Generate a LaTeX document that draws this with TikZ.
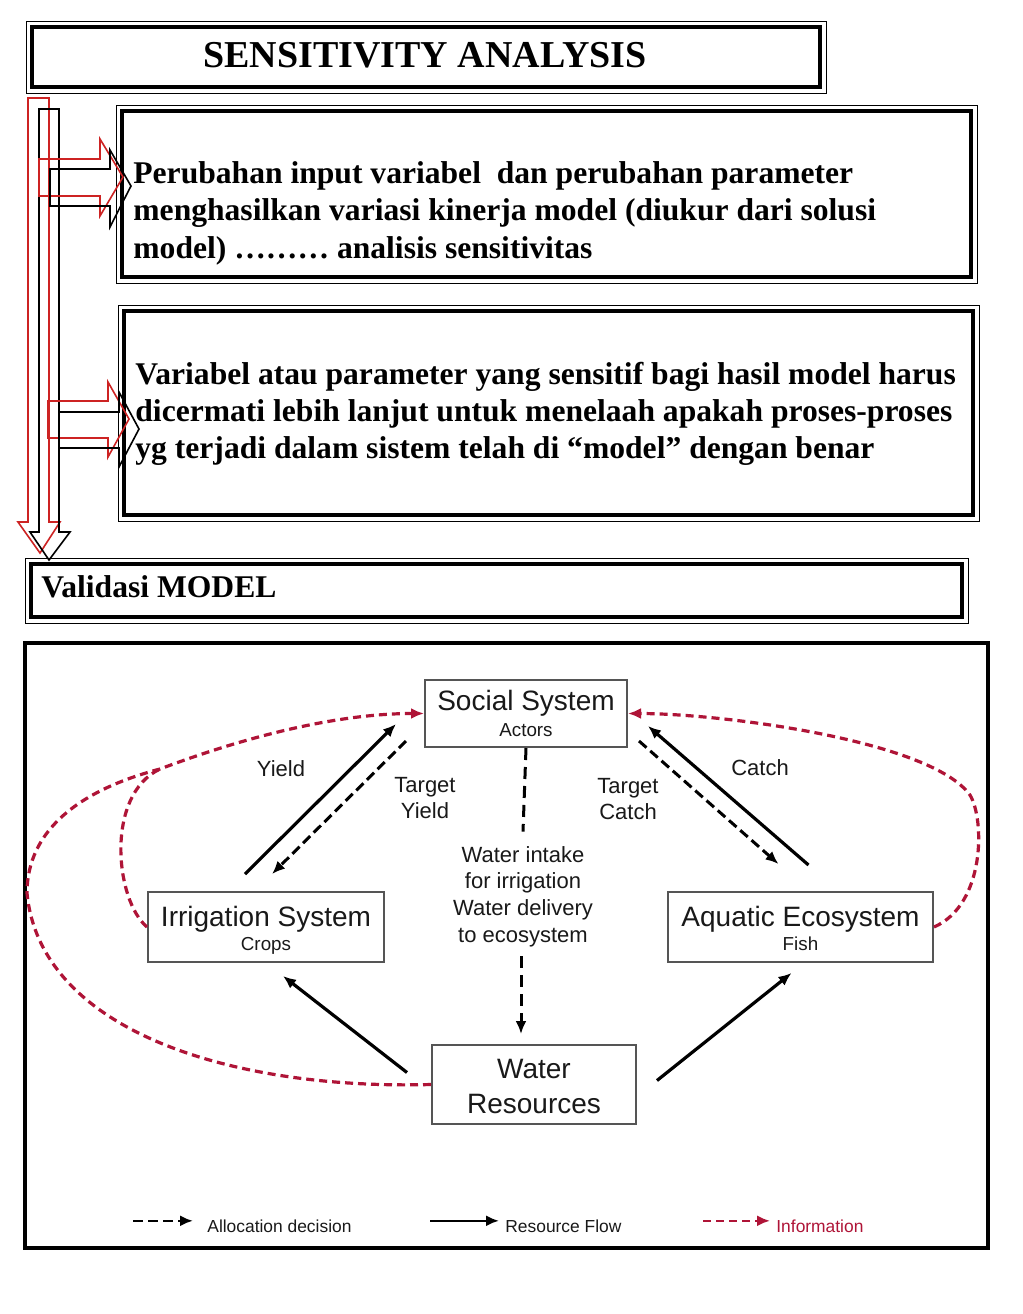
\documentclass[tikz,border=0pt]{standalone}
\usepackage{fontspec}
\setmainfont{Liberation Serif}
\setsansfont{Liberation Sans}
\usetikzlibrary{arrows.meta, calc}
\definecolor{infored}{RGB}{175,20,55}
\definecolor{blockred}{RGB}{205,35,35}
\definecolor{boxgray}{RGB}{85,85,85}
\definecolor{txtgray}{RGB}{25,25,25}

\begin{document}
\begin{tikzpicture}[x=0.5pt, y=-0.5pt,
	thinframe/.style={draw, line width=0.5pt},
	thickframe/.style={draw, line width=2.2pt},
	bodytxt/.style={anchor=base west, inner sep=0pt, font=\bfseries\fontsize{15.8}{19}\selectfont},
	redblock/.style={draw=blockred, line width=0.8pt},
	blkblock/.style={draw=black, line width=0.8pt},
	sysbox/.style={draw=boxgray, line width=1pt, fill=white},
	bigtxt/.style={anchor=base, inner sep=0pt, text=txtgray, font=\sffamily\fontsize{14}{16}\selectfont},
	smalltxt/.style={anchor=base, inner sep=0pt, text=txtgray, font=\sffamily\fontsize{9.4}{11}\selectfont},
	lbltxt/.style={anchor=base, inner sep=0pt, text=txtgray, font=\sffamily\fontsize{11}{13}\selectfont},
	legtxt/.style={anchor=base west, inner sep=0pt, text=txtgray, font=\sffamily\fontsize{8.7}{11}\selectfont},
	flow/.style={line width=1.6pt, -{Latex[length=6.5pt,width=5.5pt]}},
	alloc/.style={line width=1.5pt, dash pattern=on 5pt off 2.5pt, -{Latex[length=6.5pt,width=5.5pt]}},
	info/.style={draw=infored, line width=1.6pt, dash pattern=on 4pt off 2.5pt, -{Latex[length=6.5pt,width=5.5pt]}},
]
\useasboundingbox[fill=white] (0,0) rectangle (1023,1314);

% title
\draw[thinframe] (26,21) rectangle (826,93);
\draw[thickframe] (32,27) rectangle (820,87);
\node[anchor=base, inner sep=0pt, font=\bfseries\fontsize{19}{22}\selectfont] (title) at (425,67) {SENSITIVITY ANALYSIS};

% first text box
\draw[thinframe] (116,105) rectangle (977,283);
\draw[thickframe] (122,111) rectangle (971,277);
\foreach \txt [count=\i] in {Perubahan input variabel\ \ dan perubahan parameter,
	menghasilkan variasi kinerja model (diukur dari solusi,
	model) ……… analisis sensitivitas}
	\node[bodytxt] (pa\i) at (133,{183+37.5*(\i-1)}) {\txt};

% second text box
\draw[thinframe] (118,305) rectangle (979,521);
\draw[thickframe] (124,311) rectangle (973,515);
\foreach \txt [count=\i] in {Variabel atau parameter yang sensitif bagi hasil model harus,
	dicermati lebih lanjut untuk menelaah apakah proses-proses,
	yg terjadi dalam sistem telah di “model” dengan benar}
	\node[bodytxt] (pb\i) at (135,{384+37*(\i-1)}) {\txt};

% validasi box
\draw[thinframe] (25,558) rectangle (968,623);
\draw[thickframe] (31,564) rectangle (962,617);
\node[bodytxt] (valid) at (41,597) {Validasi MODEL};

% block arrows
\draw[redblock] (28,98) -- (49,98) -- (49,522) -- (60,522) -- (40,553) -- (18,522) -- (28,522) -- cycle;
\draw[blkblock] (39,109) -- (59,109) -- (59,532) -- (70,532) -- (49,560) -- (30,532) -- (39,532) -- cycle;
\draw[redblock] (39,159) -- (100,159) -- (100,139) -- (123,177) -- (100,216) -- (100,196) -- (39,196) -- cycle;
\draw[blkblock] (50,169) -- (110,169) -- (110,150) -- (131,186) -- (110,227) -- (110,206) -- (50,206) -- cycle;
\draw[redblock] (48,401) -- (108,401) -- (108,382) -- (129,419) -- (108,457) -- (108,438) -- (48,438) -- cycle;
\draw[blkblock] (59,412) -- (119,412) -- (119,392) -- (139,429) -- (119,467) -- (119,448) -- (59,448) -- cycle;

% figure frame
\draw[line width=2pt] (25,643) rectangle (988,1248);

% systems
\node[sysbox, minimum width=101pt, minimum height=33.5pt] (social) at (526,713.5) {};
\node[bigtxt] (socialA) at (526,710) {Social System};
\node[smalltxt] (socialB) at (526,736) {Actors};

\node[sysbox, minimum width=118pt, minimum height=35pt] (irrig) at (266,927) {};
\node[bigtxt] (irrigA) at (266,926) {Irrigation System};
\node[smalltxt] (irrigB) at (266,950) {Crops};

\node[sysbox, minimum width=132.5pt, minimum height=35pt] (aqua) at (800.5,927) {};
\node[bigtxt] (aquaA) at (800.5,926) {Aquatic Ecosystem};
\node[smalltxt] (aquaB) at (800.5,950) {Fish};

\node[sysbox, minimum width=102pt, minimum height=39.5pt] (water) at (534,1084.5) {};
\node[bigtxt] (waterA) at (534,1078) {Water};
\node[bigtxt] (waterB) at (534,1113) {Resources};

% labels
\node[lbltxt] (yield) at (281,776) {Yield};
\node[lbltxt] (tyieldA) at (425,792) {Target};
\node[lbltxt] (tyieldB) at (425,818) {Yield};
\node[lbltxt] (tcatchA) at (628,793) {Target};
\node[lbltxt] (tcatchB) at (628,819) {Catch};
\node[lbltxt] (catch) at (760,775) {Catch};
\foreach \txt [count=\i] in {Water intake, for irrigation, Water delivery, to ecosystem}
	\node[lbltxt] (w\i) at (523,{862+26.7*(\i-1)}) {\txt};

% resource flow and allocation
\draw[flow] ($(irrig.north)+(-21,-17)$) -- ($(social.south west)+(-28,-24)$);
\draw[alloc] ($(social.south west)+(-18,-7)$) -- ($(irrig.north)+(6,-17)$);
\draw[alloc] ($(social.south east)+(11,-7)$) -- ($(aqua.north)+(-22,-27)$);
\draw[flow] ($(aqua.north)+(8,-26)$) -- ($(social.south east)+(20,-22)$);
\draw[alloc, -, dash pattern=on 6pt off 3.5pt] (social.south) -- ($(w1.north)+(0,-14)$);
\draw[alloc, dash pattern=on 6pt off 3.5pt] ($(w4.south)+(-2,9)$) -- ($(water.north)+(-13,-10)$);
\draw[flow] ($(water.west)+(-24,-12)$) -- ($(irrig.south)+(17,13)$);
\draw[flow] ($(water.east)+(20,-4)$) -- ($(aqua.south)+(-9,10)$);

% information
\draw[info] (water.west) .. controls (230,1090) and (40,1030) .. (27,893)
	.. controls (27,830) and (80,790) .. (160,769)
	.. controls (250,735) and (340,713.5) .. (social.west);
\draw[info, -] (irrig.west) .. controls (115,900) and (105,795) .. (160,769);
\draw[info] (aqua.east) .. controls (985,905) and (985,820) .. (970,795)
	.. controls (930,740) and (720,713.5) .. (social.east);

% legend
\node[legtxt] (legalloc) at (207,1232) {Allocation decision};
\node[legtxt] (legflow) at (505,1232) {Resource Flow};
\node[legtxt, text=infored] (leginfo) at (776,1232) {Information};
\draw[alloc, line width=1.2pt] ($(legalloc.west)+(-74,-5)$) -- ($(legalloc.west)+(-14,-5)$);
\draw[flow, line width=1.2pt] ($(legflow.west)+(-75,-5)$) -- ($(legflow.west)+(-6,-5)$);
\draw[info, line width=1.2pt] ($(leginfo.west)+(-73,-5)$) -- ($(leginfo.west)+(-6,-5)$);
\end{tikzpicture}
\end{document}
